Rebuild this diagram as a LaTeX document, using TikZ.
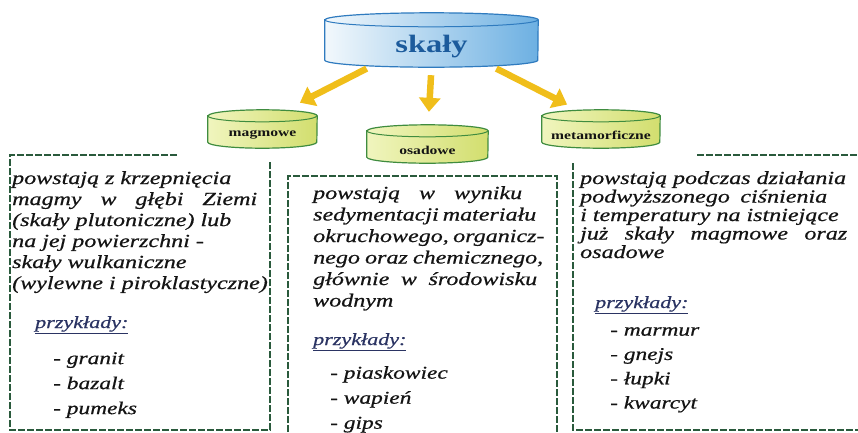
\documentclass[tikz,border=0pt]{standalone}
\usepackage{fontspec}
\setmainfont{Liberation Serif}
\newfontfamily\bodyfont{Liberation Serif}[FakeStretch=1.3]
\newfontfamily\itfont{Liberation Serif Italic}[FakeStretch=1.3, FakeBold=0.6]
\usetikzlibrary{arrows.meta,calc,backgrounds}

\definecolor{boxgreen}{HTML}{2A5A3C}
\definecolor{arrowyellow}{HTML}{F0BE1A}
\definecolor{skyline}{HTML}{2F7BBF}
\definecolor{skyleft}{HTML}{F2F8FC}
\definecolor{skyright}{HTML}{6DB0E2}
\definecolor{skytext}{HTML}{1C5B9C}
\definecolor{limeline}{HTML}{3F8C3F}
\definecolor{limeleft}{HTML}{F0F5BE}
\definecolor{limeright}{HTML}{D2DE6E}
\definecolor{examplenavy}{HTML}{2B3463}
\definecolor{inkgray}{HTML}{141414}

% cylinder behind a node: node, x radius, y radius, colour prefix
\newcommand{\drawcyl}[4]{%
  \shadedraw[left color=#4left, right color=#4right, draw=#4line, line width=1.2pt]
    ($(#1.north west)+(0,#3)$) -- ($(#1.south west)+(0,#3)$)
    arc[start angle=180, end angle=360, x radius=#2, y radius=#3]
    -- ($(#1.north east)+(0,#3)$)
    arc[start angle=0, end angle=180, x radius=#2, y radius=#3] -- cycle;
  \draw[draw=#4line, line width=1pt]
    ($(#1.north west)+(0,#3)$) arc[start angle=180, end angle=360, x radius=#2, y radius=#3];
}
\newcommand{\spreadline}[2]{\makebox[#1][s]{#2}}

\begin{document}
\begin{tikzpicture}[x=1pt,y=1pt,
    bigarrow/.style={line width=6.5pt, draw=arrowyellow, -{Triangle[width=21pt,length=14pt]}},
    cylbox/.style={inner sep=0pt, text=inkgray, font=\bodyfont\bfseries\fontsize{12}{13}\selectfont},
    boxline/.style={draw=boxgreen, line width=1.6pt, dash pattern=on 7pt off 2pt},
    bodytext/.style={anchor=north west, inner sep=0pt, align=left, text=inkgray,
      font=\itfont\fontsize{18.5}{21}\selectfont, execute at begin node=\strut},
    exhead/.style={anchor=base west, inner sep=0pt, text=examplenavy,
      font=\itfont\fontsize{17}{20}\selectfont},
    exlist/.style={anchor=north west, inner sep=0pt, align=left, text=inkgray,
      font=\itfont\fontsize{18}{25}\selectfont, execute at begin node=\strut}]
  \useasboundingbox (0,0) rectangle (858,-432);
  \clip (0,0) rectangle (858,-432);

  % cylinders
  \node[cylbox, minimum width=213pt, minimum height=40pt, text=skytext,
    font=\bodyfont\bfseries\fontsize{25}{28}\selectfont] (skaly) at (431.5,-47) {skały};
  \node[cylbox, minimum width=109pt, minimum height=26pt] (magmowe) at (262.5,-135) {magmowe};
  \node[cylbox, minimum width=121pt, minimum height=26pt] (osadowe) at (427.5,-150) {osadowe};
  \node[cylbox, minimum width=118pt, minimum height=26pt] (metamorficzne) at (601,-135) {metamorficzne};
  \begin{pgfonlayer}{background}
    \drawcyl{skaly}{106.5}{7}{sky}
    \drawcyl{magmowe}{54.5}{6}{lime}
    \drawcyl{osadowe}{60.5}{6}{lime}
    \drawcyl{metamorficzne}{59}{6}{lime}
  \end{pgfonlayer}

  \draw[bigarrow, shorten <=3pt, shorten >=42pt] (skaly.198) -- (magmowe.north);
  \draw[bigarrow, shorten <=8pt, shorten >=25pt] (skaly.south) -- (osadowe.north);
  \draw[bigarrow, shorten <=3pt, shorten >=38pt] (skaly.-18) -- (metamorficzne.north);

  % dashed frames
  \draw[boxline] (177,-155) -- (10,-155) -- (10,-430) -- (270,-430) -- (270,-162);
  \draw[boxline] (288,-432) -- (288,-176) -- (557,-176) -- (557,-432);
  \draw[boxline] (697,-155) -- (858,-155);
  \draw[boxline] (573,-163) -- (573,-430) -- (858,-430);

  % magmowe
  \node[bodytext] (magmtext) at (12,-171) {powstają z krzepnięcia\\
    \spreadline{245pt}{magmy w głębi Ziemi}\\
    (skały plutoniczne) lub\\
    na jej powierzchni -\\
    skały wulkaniczne\\
    (wylewne i piroklastyczne)};
  \node[exhead] (magmhead) at (35,-328) {\underline{przykłady:}};
  \node[exlist] (magmlist) at (53,-352) {- granit\\- bazalt\\- pumeks};

  % osadowe
  \node[bodytext, font=\itfont\fontsize{18.5}{21.5}\selectfont] (osadtext) at (313,-186) {%
    \spreadline{209pt}{powstają w wyniku}\\
    \spreadline{219pt}{sedymentacji materiału}\\
    \spreadline{230pt}{okruchowego, organicz-}\\
    \spreadline{230pt}{nego oraz chemicznego,}\\
    \spreadline{224pt}{głównie w środowisku}\\
    wodnym};
  \node[exhead] (osadhead) at (313,-345) {\underline{przykłady:}};
  \node[exlist] (osadlist) at (330,-366) {- piaskowiec\\- wapień\\- gips};

  % metamorficzne
  \node[bodytext, font=\itfont\fontsize{18.5}{18.5}\selectfont] (metatext) at (580,-171) {%
    powstają podczas działania\\
    \spreadline{247pt}{podwyższonego ciśnienia}\\
    i temperatury na istniejące\\
    \spreadline{267pt}{już skały magmowe oraz}\\
    osadowe};
  \node[exhead] (metahead) at (595,-308) {\underline{przykłady:}};
  \node[exlist, font=\itfont\fontsize{18}{24.3}\selectfont] (metalist) at (610,-327) {- marmur\\- gnejs\\- łupki\\- kwarcyt};
\end{tikzpicture}
\end{document}
